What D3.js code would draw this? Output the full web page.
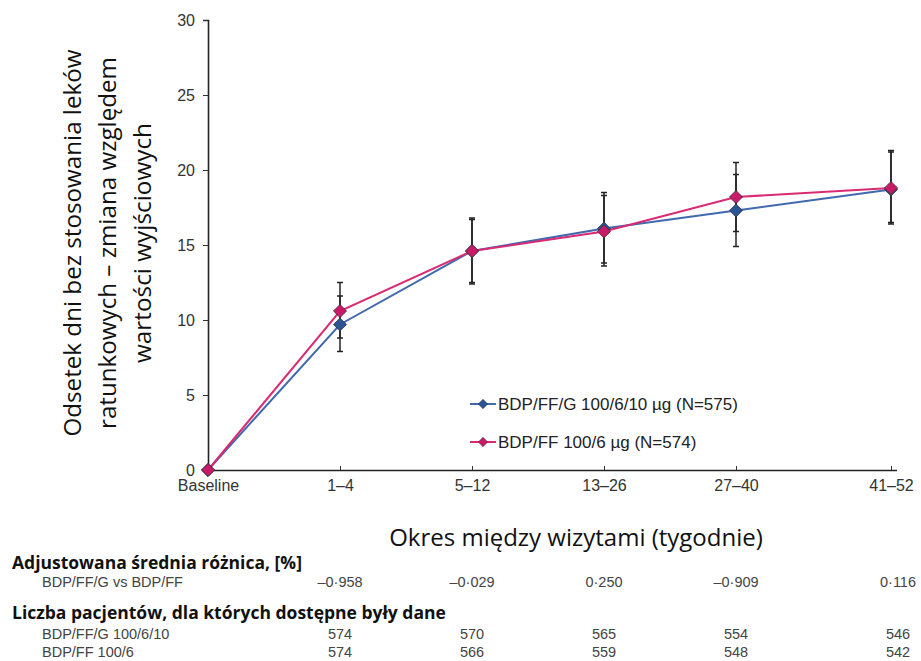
<!DOCTYPE html>
<html>
<head>
	<meta charset="utf-8">
	<title>Odsetek dni bez stosowania leków ratunkowych</title>
	<script src="https://d3js.org/d3.v7.min.js"></script>
	<style>
		body { margin: 0; background: #fff; }
	</style>
</head>
<body>
	<div class="chart"></div>

	<script type="text/javascript">
		// dane
		var categories = ['Baseline', '1–4', '5–12', '13–26', '27–40', '41–52']
		var tripleMean = [0, 9.7, 14.6, 16.1, 17.3, 18.7]
		var tripleLow = [null, 7.9, 12.5, 13.8, 14.9, 16.4]
		var tripleHigh = [null, 11.6, 16.8, 18.5, 19.7, 21.2]
		var dualMean = [0, 10.6, 14.6, 15.9, 18.2, 18.8]
		var dualLow = [null, 8.8, 12.4, 13.6, 15.9, 16.5]
		var dualHigh = [null, 12.5, 16.7, 18.3, 20.5, 21.3]
		var yTicks = [0, 5, 10, 15, 20, 25, 30]
		var seriesNames = ['BDP/FF/G 100/6/10 µg (N=575)', 'BDP/FF 100/6 µg (N=574)']
		var diffLabel = 'BDP/FF/G vs BDP/FF'
		var diffValues = ['–0·958', '–0·029', '0·250', '–0·909', '0·116']
		var nLabels = ['BDP/FF/G 100/6/10', 'BDP/FF 100/6']
		var nTriple = [574, 570, 565, 554, 546]
		var nDual = [574, 566, 559, 548, 542]

		var colors = ['#4169ae', '#d92a72']
		var markerFill = ['#2c5597', '#c81a68']

		var width = 921
		var height = 661
		var marginLeft = 208
		var marginTop = 20
		var plotH = 450

		var svg = d3.select('.chart')
			.append('svg')
			.attr('width', width)
			.attr('height', height)
			.style('font-family', 'Liberation Sans, Arial, sans-serif')

		var chart = svg.append('g')
			.attr('transform', `translate(${marginLeft}, ${marginTop})`)

		// skale (ostatni okres jest dalej od poprzednich)
		var xScale = d3.scaleLinear()
			.domain([0, 4, 5])
			.range([0, 528, 683])
		var yScale = d3.scaleLinear()
			.domain([0, 30])
			.range([plotH, 0])

		// osie
		var yAxis = d3.axisLeft(yScale)
			.tickValues(yTicks)
			.tickSizeInner(5)
			.tickSizeOuter(0)
			.tickPadding(8)
		var gy = chart.append('g').call(yAxis)
		gy.selectAll('text').style('font-size', '16px').style('fill', '#333')
		gy.select('.domain').attr('d', `M-5,0.5H0.5V${plotH}`)

		var xAxis = d3.axisBottom(xScale)
			.tickValues(d3.range(categories.length))
			.tickFormat(i => categories[i])
			.tickSizeInner(-4)
			.tickSizeOuter(0)
			.tickPadding(10)
		var gx = chart.append('g')
			.attr('transform', `translate(0, ${plotH})`)
			.call(xAxis)
		gx.selectAll('text').style('font-size', '16px').style('fill', '#333')
		gx.select('.domain').attr('d', 'M0,0.5H689')
		svg.selectAll('.domain').attr('stroke', '#222').attr('stroke-width', 1.6)
		svg.selectAll('.tick line').attr('stroke', '#333')

		// słupki błędów
		var bars = [
			{ low: tripleLow, high: tripleHigh },
			{ low: dualLow, high: dualHigh }
		]
		bars.forEach(b => {
			var data = categories.map((c, i) => ({ i: i, lo: b.low[i], hi: b.high[i] })).filter(d => d.lo != null)
			var g = chart.append('g').attr('stroke', '#222').attr('stroke-width', 1.5)
			g.selectAll('line.v').data(data).enter().append('line')
				.attr('x1', d => xScale(d.i)).attr('x2', d => xScale(d.i))
				.attr('y1', d => yScale(d.lo)).attr('y2', d => yScale(d.hi))
			g.selectAll('line.lo').data(data).enter().append('line')
				.attr('x1', d => xScale(d.i) - 3).attr('x2', d => xScale(d.i) + 3)
				.attr('y1', d => yScale(d.lo)).attr('y2', d => yScale(d.lo))
			g.selectAll('line.hi').data(data).enter().append('line')
				.attr('x1', d => xScale(d.i) - 3).attr('x2', d => xScale(d.i) + 3)
				.attr('y1', d => yScale(d.hi)).attr('y2', d => yScale(d.hi))
		})

		// linie i punkty
		var series = [tripleMean, dualMean]
		var line = d3.line()
			.x((d, i) => xScale(i))
			.y(d => yScale(d))
		var diamond = d3.symbol().type(d3.symbolDiamond2)

		series.forEach((s, k) => {
			chart.append('path')
				.datum(s)
				.attr('d', line)
				.attr('fill', 'none')
				.attr('stroke', colors[k])
				.attr('stroke-width', 2)
		})
		series.forEach((s, k) => {
			chart.append('g').selectAll('path')
				.data(s)
				.enter()
				.append('path')
				.attr('d', diamond.size(110))
				.attr('transform', (d, i) => `translate(${xScale(i)}, ${yScale(d)})`)
				.attr('fill', markerFill[k])
				.attr('stroke', '#333')
				.attr('stroke-width', 0.8)
		})

		// legenda
		var legend = svg.append('g').attr('transform', 'translate(470, 404)')
		seriesNames.forEach((name, k) => {
			var row = legend.append('g').attr('transform', `translate(0, ${k * 38})`)
			row.append('line')
				.attr('x1', 0).attr('x2', 26)
				.attr('stroke', colors[k]).attr('stroke-width', 2)
			row.append('path')
				.attr('d', diamond.size(55))
				.attr('transform', 'translate(13, 0)')
				.attr('fill', markerFill[k])
				.attr('stroke', '#333').attr('stroke-width', 0.6)
			row.append('text')
				.attr('x', 28).attr('dy', '0.35em')
				.style('font-size', '17px').style('fill', '#222')
				.text(name)
		})

		// tytuły osi
		var yTitle = ['Odsetek dni bez stosowania leków', 'ratunkowych – zmiana względem', 'wartości wyjściowych']
		var yTitleLen = [387, 372, 240]
		var yt = svg.append('text')
			.attr('transform', 'translate(81, 243) rotate(-90)')
			.attr('text-anchor', 'middle')
			.style('font-family', 'Open Sans, sans-serif')
			.style('font-size', '24px')
			.style('fill', '#111')
		yTitle.forEach((t, i) => {
			yt.append('tspan')
				.attr('x', 0).attr('y', i * 35)
				.attr('textLength', yTitleLen[i])
				.attr('lengthAdjust', 'spacingAndGlyphs')
				.text(t)
		})

		svg.append('text')
			.attr('x', 576)
			.attr('y', 546)
			.attr('text-anchor', 'middle')
			.style('font-family', 'Open Sans, sans-serif')
			.style('font-size', '24px')
			.style('fill', '#111')
			.text('Okres między wizytami (tygodnie)')

		// tabela pod wykresem
		var table = svg.append('g')
		function header(y, t) {
			table.append('text')
				.attr('x', 12).attr('y', y)
				.style('font-family', 'Open Sans, sans-serif')
				.style('font-size', '17.5px').style('font-weight', 'bold')
				.style('fill', '#111')
				.text(t)
		}
		function row(y, label, vals) {
			table.append('text')
				.attr('x', 42).attr('y', y)
				.style('font-size', '14.5px').style('fill', '#444')
				.text(label)
			table.selectAll(null).data(vals).enter().append('text')
				.attr('x', (d, i) => marginLeft + xScale(i + 1) + (i === vals.length - 1 ? 7 : 0))
				.attr('y', y)
				.attr('text-anchor', 'middle')
				.style('font-size', '14.5px').style('fill', '#444')
				.text(d => d)
		}
		header(569, 'Adjustowana średnia różnica, [%]')
		row(587, diffLabel, diffValues)
		header(619, 'Liczba pacjentów, dla których dostępne były dane')
		row(639, nLabels[0], nTriple)
		row(657, nLabels[1], nDual)
	</script>
</body>
</html>
